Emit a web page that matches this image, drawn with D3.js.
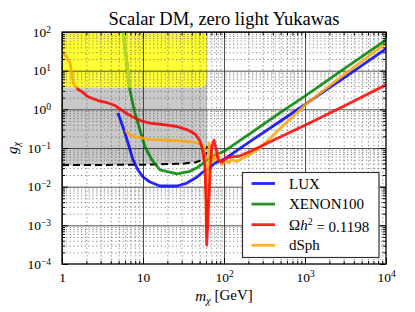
<!DOCTYPE html>
<html><head><meta charset="utf-8">
<script src="https://cdnjs.cloudflare.com/ajax/libs/d3/7.8.5/d3.min.js"></script>
<style>body{margin:0;background:#fff}</style>
</head><body><svg id="c" width="415" height="312"></svg>
<script>
// ---------- data ----------
const luxMass = [4.9, 5.66, 6.53, 7.53, 8.67, 10, 12.2, 16.2, 26.3, 34.9, 46.4, 55.1, 62.2, 77.4, 100, 200, 500, 1000, 3000, 10000];
const luxG    = [0.80, 0.35, 0.135, 0.049, 0.027, 0.0178, 0.0132, 0.0104, 0.0104, 0.0124, 0.0178, 0.024, 0.027, 0.041, 0.051, 0.137, 0.50, 1.35, 6.4, 37];

const xenonMass = [5.71, 6.9, 7.3, 7.96, 9.18, 10.6, 12.9, 16.2, 26.3, 38, 47.7, 55.1, 62.2, 73, 100, 200, 500, 1000, 3000, 10000];
const xenonG    = [100, 3.16, 1.75, 0.80, 0.29, 0.106, 0.049, 0.027, 0.0213, 0.025, 0.032, 0.040, 0.05, 0.062, 0.082, 0.22, 0.83, 2.2, 11, 62];

const relicMass = [1.52, 1.75, 2.09, 2.78, 3.70, 4.51, 5.2, 6.0, 7.3, 8.43, 10, 12.2, 17.7, 26.3, 34.9, 43.9, 50.6, 55.1, 58.2, 60, 61.1, 63.4, 67.2, 70.5, 75.3, 81.3, 84.4, 93.7, 108, 124, 150, 200, 500, 1000, 3000, 10000];
const relicG    = [3.5, 2.86, 2.12, 1.69, 1.46, 1.26, 1.02, 0.83, 0.65, 0.56, 0.485, 0.44, 0.405, 0.36, 0.30, 0.23, 0.152, 0.079, 0.032, 0.0045, 0.00031, 0.00137, 0.020, 0.106, 0.16, 0.079, 0.049, 0.043, 0.055, 0.060, 0.060, 0.078, 0.195, 0.39, 1.2, 4.3];

const dsphMass = [1, 1.14, 1.26, 1.32, 1.38, 1.55, 3, 6.0, 6.9, 8.35, 12.2, 17.8, 26, 38, 48.4, 55.4, 58.2, 60, 60.7, 63.4, 65.3, 74.6, 82, 94.4, 103, 114, 125, 143, 200, 278, 500, 1000, 3000, 10000];
const dsphG    = [30, 23, 15.5, 8.5, 4.7, 3.4, null, 0.29, 0.217, 0.19, 0.168, 0.161, 0.155, 0.146, 0.132, 0.108, 0.059, 0.0045, 0.00053, 0.0082, 0.135, 0.046, 0.074, 0.037, 0.050, 0.041, 0.050, 0.045, 0.065, 0.10, 0.33, 1.3, 7.8, 51];

const dashMass = [1, 10, 30, 45, 55, 58.2, 61, 62.2];
const dashG    = [0.036, 0.037, 0.039, 0.043, 0.05, 0.059, 0.08, 0.112];

const yellowMass = [1, 49, 53.5, 57, 59.5, 61.2, 62.0, 62.2, 62.2];
const yellowLow  = [3.6, 3.6, 3.68, 3.95, 4.45, 5.2, 6.3, 7.5, 100];
const grayEdgeMass = 62.2;

const xMajor = [1, 10, 100, 1000, 10000];
const xTickBase = ["1", "10", "10", "10", "10"];
const xTickExp  = ["", "", "2", "3", "4"];
const yMajor = [1e-4, 1e-3, 1e-2, 1e-1, 1, 10, 100];
const yTickBase = ["10", "10", "10", "10", "10", "10", "10"];
const yTickExp  = ["\u22124", "\u22123", "\u22122", "\u22121", "0", "1", "2"];

const legendNames = ["LUX", "XENON100", "relic", "dSph"];
const seriesColors = ["#0000ff", "#008000", "#ff0000", "#ffa500"];

// ---------- setup ----------
const P = {l: 62, r: 386, t: 32, b: 264};
const svg = d3.select("#c");
const x = d3.scaleLog().domain([1, 1e4]).range([P.l, P.r]);
const y = d3.scaleLog().domain([1e-4, 1e2]).range([P.b, P.t]);
const serif = "'Liberation Serif', 'DejaVu Serif', serif";
const pts = (ms, gs) => ms.map((m, i) => [m, gs[i]]);
const line = d3.line().defined(d => d[1] != null).x(d => x(d[0])).y(d => y(d[1]));

const minorX = [], minorY = [];
for (let n = 0; n < 4; n++) for (let k = 2; k < 10; k++) minorX.push(k * Math.pow(10, n));
for (let n = -4; n < 2; n++) for (let k = 2; k < 10; k++) minorY.push(+(k * Math.pow(10, n)).toPrecision(3));

const defs = svg.append("defs");
defs.append("clipPath").attr("id", "plot").append("rect")
  .attr("x", P.l).attr("y", P.t).attr("width", P.r - P.l).attr("height", P.b - P.t);

const yellowPts = [[1, 100]].concat(pts(yellowMass, yellowLow));
const yellowPath = d3.line().x(d => x(d[0])).y(d => y(d[1]))(yellowPts) + "Z";
defs.append("clipPath").attr("id", "yel").append("path").attr("d", yellowPath);

const plot = svg.append("g").attr("clip-path", "url(#plot)");

// gray region
const grayPts = [[1, 100], [grayEdgeMass, 100]].concat(pts(dashMass, dashG).reverse());
plot.append("path").attr("d", d3.line().x(d => x(d[0])).y(d => y(d[1]))(grayPts) + "Z")
  .attr("fill", "#c8c8c8");
// yellow region
plot.append("path").attr("d", yellowPath).attr("fill", "#ffff33");

// grid
const gridX = plot.append("g").attr("transform", `translate(0,${P.b})`);
gridX.call(d3.axisBottom(x).tickValues(minorX).tickSize(-(P.b - P.t)).tickFormat(""));
gridX.selectAll("line").attr("stroke", "#666").attr("stroke-width", 0.8).attr("stroke-dasharray", "1.2,2.6");
const gridX2 = plot.append("g").attr("transform", `translate(0,${P.b})`);
gridX2.call(d3.axisBottom(x).tickValues(xMajor).tickSize(-(P.b - P.t)).tickFormat(""));
gridX2.selectAll("line").attr("stroke", "#222").attr("stroke-width", 0.8);
const gridY = plot.append("g").attr("transform", `translate(${P.l},0)`);
gridY.call(d3.axisLeft(y).tickValues(minorY).tickSize(-(P.r - P.l)).tickFormat(""));
gridY.selectAll("line").attr("stroke", "#666").attr("stroke-width", 0.8).attr("stroke-dasharray", "1.2,2.6");
const gridY2 = plot.append("g").attr("transform", `translate(${P.l},0)`);
gridY2.call(d3.axisLeft(y).tickValues(yMajor).tickSize(-(P.r - P.l)).tickFormat(""));
gridY2.selectAll("line").attr("stroke", "#222").attr("stroke-width", 0.8);
plot.selectAll(".domain").remove();

// dashed line
plot.append("path").attr("d", line(pts(dashMass, dashG))).attr("fill", "none")
  .attr("stroke", "#000").attr("stroke-width", 2).attr("stroke-dasharray", "7,4");

const lw = 2.8, op = 0.85;
function drawSeries(ms, gs, col) {
  plot.append("path").attr("d", line(pts(ms, gs))).attr("fill", "none")
    .attr("stroke", col).attr("stroke-width", lw).attr("stroke-opacity", op)
    .attr("stroke-linejoin", "round");
}
drawSeries(luxMass, luxG, seriesColors[0]);
drawSeries(xenonMass, xenonG, seriesColors[1]);
// green seen through the yellow band
plot.append("g").attr("clip-path", "url(#yel)").append("path")
  .attr("d", line(pts(xenonMass, xenonG))).attr("fill", "none")
  .attr("stroke", "#b3d62e").attr("stroke-width", lw + 0.4);
drawSeries(dsphMass, dsphG, seriesColors[3]);
drawSeries(relicMass, relicG, seriesColors[2]);

// ---------- axes ----------
function styleAxis(g) {
  g.select(".domain").remove();
  g.selectAll("line").attr("stroke", "#000").attr("stroke-width", 1);
  g.attr("font-family", serif).attr("font-size", 13.5);
}
function supLabels(g, vals, bases, exps) {
  g.selectAll(".tick text").attr("fill", "#000").each(function(d) {
    const i = vals.indexOf(d);
    const t = d3.select(this).text("");
    t.append("tspan").text(bases[i]);
    if (exps[i]) t.append("tspan").attr("dy", "-0.45em").attr("font-size", "9.5px").text(exps[i]);
  });
}
let g;
g = svg.append("g").attr("transform", `translate(0,${P.b})`)
  .call(d3.axisBottom(x).tickValues(xMajor).tickSize(-6).tickPadding(8));
styleAxis(g); supLabels(g, xMajor, xTickBase, xTickExp);
g = svg.append("g").attr("transform", `translate(0,${P.b})`)
  .call(d3.axisBottom(x).tickValues(minorX).tickSize(-3).tickFormat("")); styleAxis(g);
g = svg.append("g").attr("transform", `translate(0,${P.t})`)
  .call(d3.axisTop(x).tickValues(xMajor).tickSize(-6).tickFormat("")); styleAxis(g);
g = svg.append("g").attr("transform", `translate(0,${P.t})`)
  .call(d3.axisTop(x).tickValues(minorX).tickSize(-3).tickFormat("")); styleAxis(g);
g = svg.append("g").attr("transform", `translate(${P.l},0)`)
  .call(d3.axisLeft(y).tickValues(yMajor).tickSize(-6).tickPadding(11));
styleAxis(g); supLabels(g, yMajor, yTickBase, yTickExp);
g = svg.append("g").attr("transform", `translate(${P.l},0)`)
  .call(d3.axisLeft(y).tickValues(minorY).tickSize(-3).tickFormat("")); styleAxis(g);
g = svg.append("g").attr("transform", `translate(${P.r},0)`)
  .call(d3.axisRight(y).tickValues(yMajor).tickSize(-6).tickFormat("")); styleAxis(g);
g = svg.append("g").attr("transform", `translate(${P.r},0)`)
  .call(d3.axisRight(y).tickValues(minorY).tickSize(-3).tickFormat("")); styleAxis(g);

svg.append("rect").attr("x", P.l).attr("y", P.t).attr("width", P.r - P.l).attr("height", P.b - P.t)
  .attr("fill", "none").attr("stroke", "#000").attr("stroke-width", 1.3);

// title
svg.append("text").attr("x", (P.l + P.r) / 2).attr("y", 25).attr("text-anchor", "middle")
  .attr("font-family", serif).attr("font-size", 18.5).text("Scalar DM, zero light Yukawas");

// x label
const xl = svg.append("text").attr("x", 224).attr("y", 301).attr("text-anchor", "middle")
  .attr("font-family", serif).attr("font-size", 15);
xl.append("tspan").attr("font-style", "italic").text("m");
xl.append("tspan").attr("font-style", "italic").attr("font-size", 10.5).attr("dy", "0.3em").text("\u03c7");
xl.append("tspan").attr("dy", "-0.3em").text(" [GeV]");

// y label
const yl = svg.append("text").attr("transform", "translate(17,148) rotate(-90)").attr("text-anchor", "middle")
  .attr("font-family", serif).attr("font-size", 15);
yl.append("tspan").attr("font-style", "italic").text("g");
yl.append("tspan").attr("font-style", "italic").attr("font-size", 10.5).attr("dy", "0.3em").text("\u03c7");

// legend
const lg = svg.append("g");
lg.append("rect").attr("x", 242.5).attr("y", 172.5).attr("width", 136.5).attr("height", 85)
  .attr("fill", "#fff").attr("stroke", "#333").attr("stroke-width", 1.2);
legendNames.forEach((name, i) => {
  const yy = 183.5 + i * 20.6;
  lg.append("line").attr("x1", 251.5).attr("x2", 275).attr("y1", yy).attr("y2", yy)
    .attr("stroke", seriesColors[i]).attr("stroke-opacity", op).attr("stroke-width", lw);
  const t = lg.append("text").attr("x", 289).attr("y", yy + 5).attr("font-family", serif).attr("font-size", 15);
  if (name === "relic") {
    t.append("tspan").text("\u03a9");
    t.append("tspan").attr("font-style", "italic").text("h");
    t.append("tspan").attr("font-size", 10).attr("dy", "-0.5em").text("2");
    t.append("tspan").attr("dy", "0.5em").text(" = 0.1198");
  } else t.text(name);
});
</script></body></html>
